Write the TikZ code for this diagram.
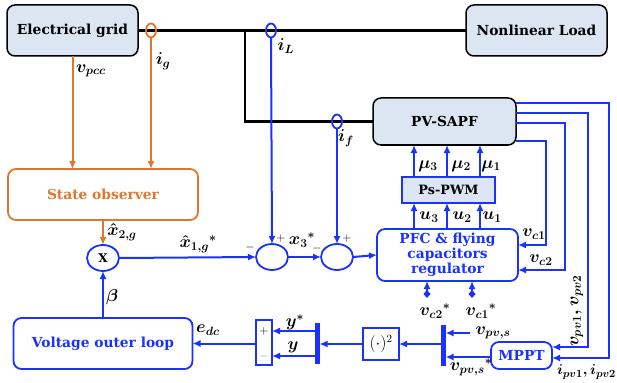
\documentclass[tikz,border=0pt]{standalone}
\usepackage{amsmath,amssymb}
\usepackage[no-math]{fontspec}
\newfontfamily\boxfont{DejaVu Serif}
\usetikzlibrary{arrows.meta,shapes.geometric}
\definecolor{myblue}{RGB}{25,50,255}
\definecolor{myorange}{RGB}{224,118,45}
\definecolor{myfill}{RGB}{220,230,242}
\begin{document}
\begin{tikzpicture}[x=1pt,y=-1pt,
  every node/.style={inner sep=0pt,outer sep=0pt},
  bigtxt/.style={font=\boxfont\fontsize{13.8}{15.6}\selectfont\bfseries},
  lbl/.style={font=\fontsize{17}{19}\selectfont\boldmath},
  sgn/.style={font=\fontsize{12}{13}\selectfont},
  graybox/.style={draw=black,line width=1.5pt,fill=myfill,rounded corners=8pt,bigtxt},
  bluebox/.style={draw=myblue,line width=1.8pt,fill=white,rounded corners=8pt,bigtxt,text=myblue},
  sumnode/.style={ellipse,draw=myblue,line width=1.8pt,fill=white,minimum width=32pt,minimum height=26pt},
  barnode/.style={rectangle,fill=myblue,minimum width=5pt,minimum height=41pt},
  tip/.style={-{Latex[length=8pt,width=7pt]}},
  bline/.style={draw=myblue,line width=2pt},
  oline/.style={draw=myorange,line width=2pt},
  kline/.style={draw=black,line width=2.8pt},
  sensor/.style={ellipse,line width=1.8pt,minimum width=10pt,minimum height=14pt}]
\useasboundingbox (0,0) rectangle (617,382);

% main boxes
\node[graybox,minimum width=131pt,minimum height=51pt] (grid) at (72.5,30.5) {Electrical grid};
\node[graybox,minimum width=141pt,minimum height=51pt] (load) at (536.5,30.5) {Nonlinear Load};
\node[graybox,minimum width=143pt,minimum height=47pt] (sapf) at (444.5,121.5) {PV-SAPF};
\node[draw=myorange,line width=1.8pt,rounded corners=8pt,bigtxt,text=myorange,minimum width=190pt,minimum height=51pt] (obs) at (103,194.5) {State observer};
\node[draw=myblue,line width=1.5pt,fill=myfill,font=\boxfont\fontsize{12.8}{14}\selectfont\bfseries,minimum width=93pt,minimum height=26pt] (pwm) at (448.5,190) {Ps-PWM};
\node[bluebox,minimum width=141pt,minimum height=52pt,align=center,font=\boxfont\fontsize{13.8}{15}\selectfont\bfseries] (pfc) at (447.5,255) {PFC \& flying\\capacitors\\regulator};
\node[bluebox,minimum width=61pt,minimum height=27pt] (mppt) at (521.5,355.5) {MPPT};
\node[bluebox,minimum width=179pt,minimum height=51pt] (volt) at (103,343.5) {Voltage outer loop};
\node[draw=myblue,line width=1.5pt,minimum width=36pt,minimum height=32pt,font=\fontsize{16}{18}\selectfont] (sq) at (381,344) {$(\cdot)^2$};
\node[draw=myblue,line width=1.5pt,minimum width=16pt,minimum height=45pt] (pm) at (264,342.5) {};
\node[sgn] (pmp) at (264,331) {$+$};
\node[sgn,text=gray] (pmm) at (264,356) {$-$};

% circles
\node[sumnode] (mult) at (103,258) {\boxfont\bfseries\fontsize{12}{13}\selectfont X};
\node[sumnode] (sum1) at (272,257) {};
\node[sumnode] (sum2) at (337,257) {};

% bars
\node[barnode] (bar1) at (443,345.5) {};
\node[barnode] (bar2) at (317,343) {};

% power lines
\coordinate (jn) at (245,30.5);
\draw[kline] (grid.east) -- (load.west);
\draw[kline] (jn) |- (sapf.west);
\node[sensor,draw=myorange] (ig) at (151,30.5) {};
\node[sensor,draw=myblue] (iL) at (271,30.5) {};
\node[sensor,draw=myblue] (if) at (337,121.5) {};

% orange measurements
\draw[oline,tip] (grid.south) -- (grid.south |- obs.north);
\draw[oline,tip] (ig.south) -- (ig.south |- obs.north);
\draw[oline,tip] (obs.south) -- (mult.north);

% blue signal flow
\draw[bline,tip] (mult.east) -- (sum1.west);
\draw[bline,tip] (iL.south) -- (sum1.north);
\draw[bline,tip] (if.south) -- (sum2.north);
\draw[bline,tip] (sum1.east) -- (sum2.west);
\draw[bline,tip] (sum2.east) -- (pfc.west);

\coordinate (c3) at (414,0);
\coordinate (c2) at (447,0);
\coordinate (c1) at (480,0);
\foreach \c in {c3,c2,c1}{
  \draw[bline,tip] (pfc.north -| \c) -- (pwm.south -| \c);
  \draw[bline,tip] (pwm.north -| \c) -- (sapf.south -| \c);
}

% feedback lines from PV-SAPF
\coordinate (r1) at (609,103); \coordinate (r1b) at (609,358);
\coordinate (r2) at (588,113); \coordinate (r2b) at (588,347);
\coordinate (r3) at (565,123); \coordinate (r3b) at (565,270);
\coordinate (r4) at (546,141); \coordinate (r4b) at (546,245);
\draw[bline,tip] (sapf.east |- r1) -- (r1) -- (r1b) -- (mppt.east |- r1b);
\draw[bline,tip] (sapf.east |- r2) -- (r2) -- (r2b) -- (mppt.east |- r2b);
\draw[bline,tip] (sapf.east |- r3) -- (r3) -- (r3b) -- (pfc.east |- r3b);
\draw[bline,tip] (sapf.east |- r4) -- (r4) -- (r4b) -- (pfc.east |- r4b);

% references vc*
\coordinate (dc2) at (427,298);
\coordinate (dc1) at (472,298);
\draw[bline,{Diamond[length=8pt,width=7pt]}-{Latex[length=8pt,width=7pt]}] (dc2) -- (pfc.south -| dc2);
\draw[bline,{Diamond[length=8pt,width=7pt]}-{Latex[length=8pt,width=7pt]}] (dc1) -- (pfc.south -| dc1);

% bottom chain
\coordinate (vps) at (470,333);
\coordinate (m357) at (0,357);
\draw[bline,tip] (vps) -- (bar1.east |- vps);
\draw[bline,tip] (mppt.west |- m357) -- (bar1.east |- m357);
\draw[bline,tip] (bar1.west |- sq.east) -- (sq.east);
\draw[bline,tip] (sq.west) -- (bar2.east |- sq.west);
\draw[bline,tip] (bar2.west |- pmp) -- (pm.east |- pmp);
\draw[bline,tip] (bar2.west |- pmm) -- (pm.east |- pmm);
\draw[bline,tip] (pm.west |- volt.east) -- (volt.east);
\draw[bline,tip] (volt.north) -- (mult.south);

% labels
\node[lbl] (lvpcc) at (91,71) {$v_{pcc}$};
\node[lbl] (lig) at (163,61) {$i_g$};
\node[lbl] (liL) at (286,46) {$i_L$};
\node[lbl] (lif) at (346,138) {$i_f$};
\node[lbl] (lx2) at (122,232) {$\hat{x}_{2,g}$};
\node[lbl] (lx1) at (198,244) {$\hat{x}_{1,g}{}^{*}$};
\node[lbl] (lx3) at (302,240) {$x_3{}^{*}$};
\node[sgn] (m1) at (250,247) {$-$};
\node[sgn] (p1) at (281,238) {$+$};
\node[sgn] (m2) at (317,248) {$-$};
\node[sgn] (p2) at (347,238) {$+$};
\node[lbl] (lmu3) at (428,166) {$\mu_3$};
\node[lbl] (lmu2) at (461,166) {$\mu_2$};
\node[lbl] (lmu1) at (491,166) {$\mu_1$};
\node[lbl] (lu3) at (429,217) {$u_3$};
\node[lbl] (lu2) at (462,217) {$u_2$};
\node[lbl] (lu1) at (492,217) {$u_1$};
\node[lbl] (lvc1) at (534,234) {$v_{c1}$};
\node[lbl] (lvc2) at (541,260) {$v_{c2}$};
\node[lbl,rotate=90] (lvpv) at (577,311) {$v_{pv1},v_{pv2}$};
\node[lbl,anchor=east,font=\fontsize{15}{17}\selectfont\boldmath] (lipv) at (616,372) {$i_{pv1},i_{pv2}$};
\node[lbl] (lvc2s) at (435,311) {$v_{c2}{}^{*}$};
\node[lbl] (lvc1s) at (481,311) {$v_{c1}{}^{*}$};
\node[lbl] (lvps) at (493,333) {$v_{pv,s}$};
\node[lbl] (lvpss) at (471,367) {$v_{pv,s}{}^{*}$};
\node[lbl] (lys) at (295,322) {$y^{*}$};
\node[lbl] (ly) at (293,347) {$y$};
\node[lbl] (ledc) at (208,330) {$e_{dc}$};
\node[lbl] (lbeta) at (112,297) {$\beta$};
\end{tikzpicture}
\end{document}
